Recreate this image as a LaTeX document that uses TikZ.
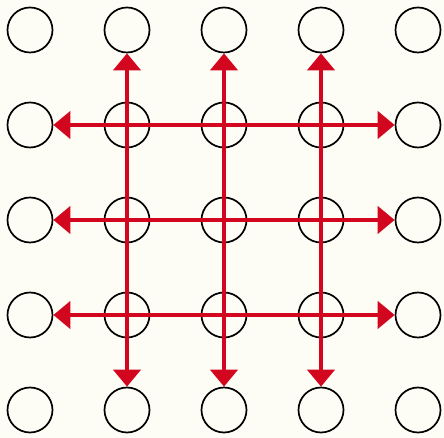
\documentclass[tikz,border=0pt]{standalone}
\usepackage{xcolor}
\usepackage{tikz}
\usetikzlibrary{arrows.meta}
\definecolor{cream}{HTML}{FDFDF6}
\definecolor{crimson}{HTML}{D2061F}
\begin{document}
\begin{tikzpicture}[x=1pt,y=1pt,
   dot/.style={circle,draw=black,line width=1.7pt,fill=none,minimum size=45pt,inner sep=0pt},
   flow/.style={{Triangle[length=17pt,width=27pt]}-{Triangle[length=17pt,width=27pt]},crimson,line width=4.6pt}]
  \fill[cream] (0,0) rectangle (444,438);
  \useasboundingbox (0,0) rectangle (444,438);
  % grid of circles
  \foreach \i in {0,...,4}
    \foreach \j in {0,...,4}
      \node[dot] (c-\i-\j) at ({30+97*\i},{408-95*\j}) {};
  % arrows
  \foreach \j in {1,2,3}
    \draw[flow] (c-0-\j) -- (c-4-\j);
  \foreach \i in {1,2,3}
    \draw[flow] (c-\i-0) -- (c-\i-4);
\end{tikzpicture}
\end{document}
